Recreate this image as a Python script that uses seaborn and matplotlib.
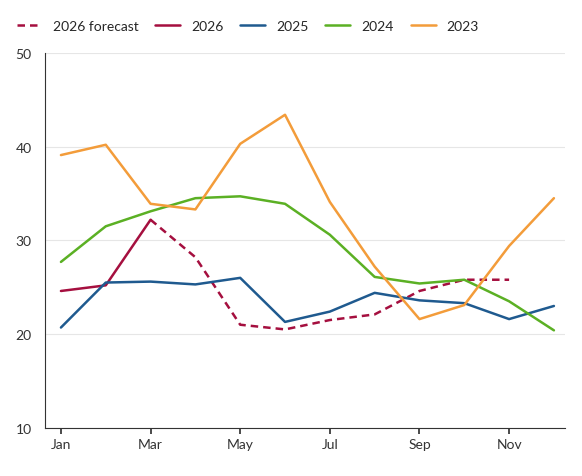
import numpy as np
import pandas as pd
import matplotlib
matplotlib.use("Agg")
import matplotlib.pyplot as plt
import seaborn as sns

months = ["Jan", "Feb", "Mar", "Apr", "May", "Jun", "Jul", "Aug", "Sep", "Oct", "Nov", "Dec"]
y2023 = [39.1, 40.2, 33.9, 33.3, 40.3, 43.4, 34.1, 27.2, 21.6, 23.1, 29.4, 34.5]
y2024 = [27.7, 31.5, 33.1, 34.5, 34.7, 33.9, 30.6, 26.1, 25.4, 25.8, 23.5, 20.4]
y2025 = [20.7, 25.5, 25.6, 25.3, 26.0, 21.3, 22.4, 24.4, 23.6, 23.3, 21.6, 23.0]
y2026 = [24.6, 25.2, 32.2]
forecast = [None, None, 32.2, 28.2, 21.0, 20.5, 21.5, 22.1, 24.6, 25.8, 25.8]

sns.set_theme(style="white")
plt.rcParams["font.family"] = ["Lato", "DejaVu Sans"]

fig, ax = plt.subplots(figsize=(5.82, 4.77), dpi=100)
x = np.arange(12)
ax.grid(axis="y", color="#e6e6e6", linewidth=0.8)

fc = pd.Series(forecast, dtype=float)
sns.lineplot(x=x[:len(fc)], y=fc, ax=ax, color="#a50f3f", linestyle=(0, (3, 2)), linewidth=1.8, label="2026 forecast")
sns.lineplot(x=x[:3], y=y2026, ax=ax, color="#a50f3f", linewidth=1.8, label="2026")
sns.lineplot(x=x, y=y2025, ax=ax, color="#1f5a8f", linewidth=1.8, label="2025")
sns.lineplot(x=x, y=y2024, ax=ax, color="#5bb024", linewidth=1.8, label="2024")
sns.lineplot(x=x, y=y2023, ax=ax, color="#f39c3a", linewidth=1.8, label="2023")

ax.set_ylim(10, 50)
ax.set_yticks([10, 20, 30, 40, 50])
ax.set_xlim(-0.36, 11.25)
ax.set_xticks(x[::2])
ax.set_xticklabels(months[::2])
ax.tick_params(colors="#333333", labelsize=10)
ax.tick_params(axis="x", length=4, color="#333333", bottom=True)
for s in ["top", "right"]:
    ax.spines[s].set_visible(False)
for s in ["left", "bottom"]:
    ax.spines[s].set_color("#333333")
    ax.spines[s].set_linewidth(0.8)

ax.legend(loc="lower left", bbox_to_anchor=(-0.065, 1.04), ncol=5, frameon=False,
          fontsize=10, handlelength=1.8, columnspacing=1.2, borderaxespad=0)
ax.set_xlabel("")
ax.set_ylabel("")
fig.subplots_adjust(left=0.077, right=0.971, top=0.887, bottom=0.101)
fig.savefig("out.png", dpi=100)
